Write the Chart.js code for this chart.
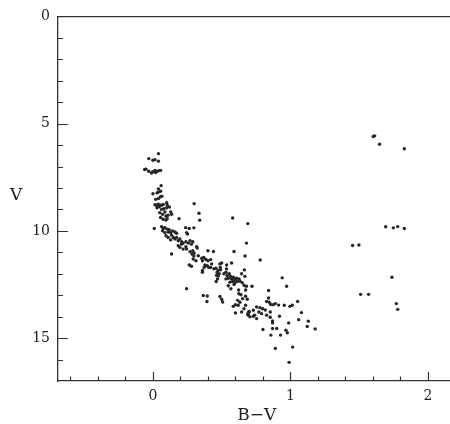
<!DOCTYPE html>
<html>
<head>
<meta charset="utf-8">
<script src="https://cdn.jsdelivr.net/npm/chart.js@4/dist/chart.umd.min.js"></script>
<style>
  html, body { margin: 0; padding: 0; background: #fff; overflow: hidden; }
  #wrap { position: relative; width: 450px; height: 424px; overflow: hidden; }
  #ylab { position: absolute; left: 10px; top: 184px; font-family: "DejaVu Serif", serif; font-size: 17px; color: #222; }
</style>
</head>
<body>
<div id="wrap">
  <canvas id="c" width="460" height="424" style="width:460px;height:424px"></canvas>
  <div id="ylab">V</div>
</div>
<script>
// B-V colour index of each star
const bv = [
  0.04,-0.03,0.00,0.015,0.04,-0.06,-0.05,-0.03,-0.01,0.00,0.015,0.03,0.046,0.056,0.02,
  0.06,0.04,0.00,0.03,0.04,0.056,0.02,0.04,0.056,0.065,0.015,0.027,0.039,0.051,0.063,0.075,0.10,0.104,0.30,
  0.03,0.046,0.063,0.08,0.10,0.12,0.13,0.136,0.05,0.07,0.087,0.095,0.11,0.056,0.075,0.095,0.104,0.19,0.335,0.34,0.58,0.69,
  0.01,0.063,0.075,0.087,0.104,0.119,0.07,0.087,0.111,0.129,0.143,0.16,0.172,0.238,0.264,0.298,0.245,0.252,
  0.095,0.111,0.136,0.148,0.16,0.129,0.172,0.184,0.196,0.209,0.22,0.24,0.257,0.27,0.28,0.29,0.208,0.184,0.24,0.68,
  0.196,0.22,0.245,0.27,0.29,0.30,0.318,0.322,0.136,0.293,0.313,0.33,0.284,0.298,0.40,0.44,0.59,0.67,0.355,0.37,0.385,0.36,0.40,0.42,0.78,
  0.264,0.28,0.427,0.378,0.395,0.361,0.36,0.373,0.405,0.42,0.444,0.458,0.475,0.492,0.467,0.482,0.487,0.50,0.536,0.572,0.49,0.665,0.535,
  0.516,0.531,0.54,0.555,0.565,0.548,0.572,0.585,0.596,0.609,0.58,0.596,0.613,0.627,0.531,0.56,0.645,0.669,0.47,0.475,0.46,0.463,0.548,0.567,0.59,0.633,0.65,0.664,0.68,0.72,0.674,0.623,0.245,0.94,0.972,0.841,
  0.625,0.64,0.674,0.686,0.652,0.616,0.633,0.60,0.62,0.584,0.674,0.662,0.487,0.50,0.507,0.366,0.395,0.393,0.754,0.778,0.797,0.817,0.827,0.841,0.846,0.856,0.875,0.89,0.914,0.955,0.996,1.013,1.052,
  0.73,0.70,0.689,0.693,0.705,0.74,0.60,0.645,0.698,0.692,0.853,0.853,0.87,0.87,0.92,0.987,1.08,1.06,1.13,1.122,1.18,0.80,0.87,0.90,0.967,0.977,0.858,0.928,0.89,1.016,0.99,0.77,0.73,0.79,0.827,0.754,
  1.602,1.612,1.648,1.828,1.692,1.748,1.78,1.828,1.452,1.498,1.738,1.51,1.568,1.77,1.78
];
// V magnitude of each star
const vmag = [
  6.40,6.63,6.71,6.68,6.75,7.14,7.12,7.22,7.30,7.24,7.18,7.22,7.19,7.18,7.28,
  7.89,8.04,8.27,8.23,8.19,8.15,8.53,8.49,8.41,8.38,8.78,8.80,8.76,8.79,8.81,8.77,8.69,8.79,8.73,
  8.92,8.88,9.00,8.97,8.92,8.89,9.12,9.23,9.15,9.23,9.12,9.31,9.27,9.38,9.46,9.49,9.43,9.43,9.18,9.50,9.40,9.66,
  9.89,9.80,9.89,9.85,9.92,9.95,10.00,10.08,10.05,10.08,10.00,10.05,10.11,9.85,9.89,9.86,10.08,10.15,
  10.23,10.31,10.20,10.31,10.38,10.42,10.31,10.46,10.38,10.51,10.57,10.51,10.57,10.46,10.62,10.51,10.62,10.69,10.74,10.57,
  10.77,10.85,10.85,10.97,10.93,11.03,10.74,10.80,11.08,11.31,11.39,11.16,11.08,11.17,10.93,10.96,10.96,11.17,11.28,11.24,11.33,11.39,11.39,11.34,11.36,
  11.59,11.65,11.54,11.59,11.62,11.85,11.93,11.70,11.70,11.71,11.77,11.74,11.85,11.81,11.93,12.00,11.54,11.50,11.59,11.50,11.70,11.82,11.77,
  12.00,11.93,12.08,12.00,12.12,12.21,12.24,12.16,12.27,12.21,12.36,12.42,12.36,12.24,12.24,12.39,12.00,12.12,12.24,12.11,12.36,12.07,12.56,12.70,12.50,12.35,12.42,12.55,12.58,12.58,12.76,12.76,12.70,12.19,12.58,12.78,
  12.93,12.98,13.05,13.19,13.16,13.24,13.33,13.44,13.47,13.52,13.47,13.63,13.06,13.19,13.32,13.01,13.04,13.29,13.55,13.58,13.63,13.69,13.29,13.13,13.33,13.43,13.44,13.39,13.46,13.47,13.52,13.47,13.29,
  13.70,13.78,13.86,13.93,14.01,13.93,13.83,13.78,13.76,13.88,13.78,14.03,14.20,14.29,13.98,14.29,13.81,14.14,14.21,14.46,14.57,14.60,14.55,14.55,14.63,14.75,14.86,14.86,15.48,15.42,16.13,13.78,13.98,13.86,13.93,14.09,
  5.60,5.57,5.96,6.17,9.81,9.86,9.80,9.89,10.68,10.66,12.16,12.96,12.96,13.39,13.66
];
// tick marks (labels shown at the major ones)
const xTickValues = [-0.6,-0.4,-0.2,0,0.2,0.4,0.6,0.8,1,1.2,1.4,1.6,1.8,2];
const xTickLabels = [0,1,2];
const yTickValues = [1,2,3,4,5,6,7,8,9,10,11,12,13,14,15,16];
const yTickLabels = [0,5,10,15];

const points = bv.map((b, i) => ({ x: b, y: vmag[i] }));
const AXIS = '#333';
const TXT = '#222';

const inwardTicks = {
  id: 'inwardTicks',
  afterDraw(chart) {
    const { ctx, chartArea: a, scales: { x, y } } = chart;
    ctx.save();
    ctx.strokeStyle = AXIS;
    ctx.lineWidth = 1.2;
    ctx.beginPath();
    xTickValues.forEach(v => {
      const major = Math.abs(v - Math.round(v)) < 1e-6;
      const px = Math.round(x.getPixelForValue(v)) + 0.5;
      ctx.moveTo(px, a.bottom);
      ctx.lineTo(px, a.bottom - (major ? 9 : 4.5));
    });
    yTickValues.forEach(v => {
      const major = v % 5 === 0;
      const py = Math.round(y.getPixelForValue(v)) + 0.5;
      ctx.moveTo(a.left, py);
      ctx.lineTo(a.left + (major ? 10 : 5), py);
    });
    ctx.stroke();
    ctx.restore();
  }
};

new Chart(document.getElementById('c'), {
  type: 'scatter',
  data: {
    datasets: [{
      data: points,
      pointRadius: 1.7,
      pointHoverRadius: 1.7,
      pointBackgroundColor: '#252525',
      pointBorderWidth: 0,
      showLine: false
    }]
  },
  options: {
    responsive: false,
    animation: false,
    events: [],
    layout: { padding: { top: 14, right: 4.5, left: 0, bottom: 0 } },
    plugins: { legend: { display: false }, tooltip: { enabled: false } },
    scales: {
      x: {
        type: 'linear', position: 'bottom',
        min: -0.69, max: 2.2,
        afterFit: s => { s.height = 43; },
        grid: { display: false, drawTicks: false },
        border: { display: true, color: AXIS, width: 1.3 },
        ticks: {
          stepSize: 1, includeBounds: false, padding: 7,
          color: TXT, font: { family: 'DejaVu Serif', size: 14 },
          callback: v => xTickLabels.includes(v) ? String(v) : ''
        },
        title: {
          display: true, text: 'B\u2212V', color: TXT,
          font: { family: 'DejaVu Serif', size: 17, lineHeight: 1 },
          padding: { top: 0, bottom: 0 }
        }
      },
      xTop: {
        type: 'linear', position: 'top',
        min: -0.69, max: 2.2,
        afterFit: s => { s.height = 0; },
        grid: { display: false, drawTicks: false },
        border: { display: true, color: AXIS, width: 1.3 },
        ticks: { display: false }
      },
      y: {
        type: 'linear', position: 'left', reverse: true,
        min: 0, max: 17,
        afterFit: s => { s.width = 58; },
        grid: { display: false, drawTicks: false },
        border: { display: true, color: AXIS, width: 1.3 },
        ticks: {
          stepSize: 5, includeBounds: false, padding: 8,
          color: TXT, font: { family: 'DejaVu Serif', size: 14 },
          callback: v => yTickLabels.includes(v) ? String(v) : ''
        }
      }
    }
  },
  plugins: [inwardTicks]
});
</script>
</body>
</html>
